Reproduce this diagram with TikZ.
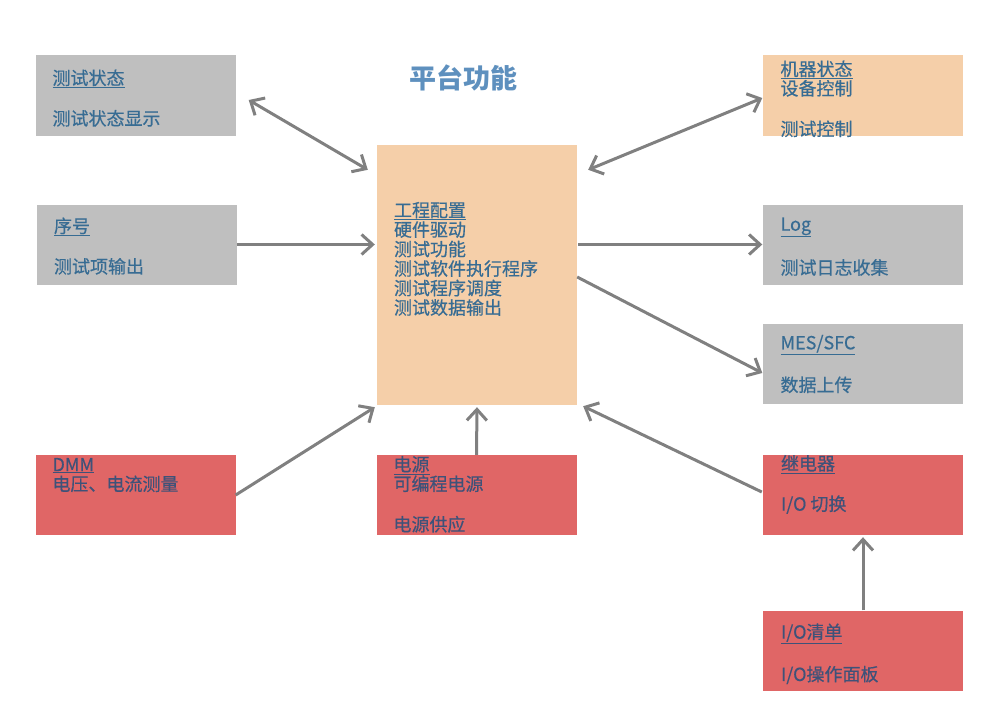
\documentclass[tikz,border=0pt]{standalone}
\usepackage{fontspec}
\setmainfont{Noto Sans CJK SC}
\newfontfamily\boxfont[FakeBold=0.5]{Noto Sans CJK SC}
\usetikzlibrary{arrows.meta}

\definecolor{boxgray}{HTML}{BFBFBF}
\definecolor{boxorange}{HTML}{F5CFA9}
\definecolor{boxred}{HTML}{E06666}
\definecolor{txtblue}{HTML}{376C93}
\definecolor{txtnavy}{HTML}{3E5279}
\definecolor{titleblue}{HTML}{5E90BE}
\definecolor{linkgray}{HTML}{808080}

\begin{document}
\begin{tikzpicture}[x=1pt, y=-1pt,
    box/.style={rectangle, draw=none, minimum width=200pt, minimum height=80pt, inner sep=0pt},
    graybox/.style={box, fill=boxgray},
    orangebox/.style={box, fill=boxorange},
    redbox/.style={box, fill=boxred},
    boxtext/.style={anchor=north west, inner sep=0pt, align=left, text=txtblue,
        font=\boxfont\fontsize{18}{19.5}\selectfont},
    redtext/.style={boxtext, text=txtnavy},
    link/.style={draw=linkgray, line width=3pt, -{Straight Barb[length=11pt,width=20pt]}},
    biglink/.style={link, {Straight Barb[length=11pt,width=20pt]}-{Straight Barb[length=11pt,width=20pt]}}
    ]
    % --- 画布范围 ---
    \useasboundingbox (0,0) rectangle (997,709);

    % --- 标题 ---
    \node[text=titleblue, font=\fontsize{27}{30}\selectfont\bfseries] (title) at (463,78) {平台功能};

    % --- 方框 ---
    \node[graybox] (status) at (135.5,95.5) {};
    \node[graybox] (serial) at (137,244.5) {};
    \node[redbox] (dmm) at (135.5,495) {};
    \node[orangebox, minimum height=260pt] (center) at (477,275) {};
    \node[redbox] (power) at (476.5,495) {};
    \node[orangebox] (machine) at (862.5,95.5) {};
    \node[graybox] (log) at (862.5,244.5) {};
    \node[graybox] (mes) at (862.5,364) {};
    \node[redbox] (relay) at (863,495) {};
    \node[redbox] (iolist) at (863,650.5) {};

    % --- 方框里的文字 ---
    \node[boxtext] (statustxt) at ([shift={(17,14)}]status.north west)
        {\underline{测试状态}\\[21pt]测试状态显示};
    \node[boxtext] (serialtxt) at ([shift={(17,13)}]serial.north west)
        {\underline{序号}\\[21pt]测试项输出};
    \node[redtext] (dmmtxt) at ([shift={(17,3)}]dmm.north west)
        {\underline{DMM}\\电压、电流测量};
    \node[boxtext] (centertxt) at ([shift={(17,57)}]center.north west)
        {\underline{工程配置}\\硬件驱动\\测试功能\\测试软件执行程序\\测试程序调度\\测试数据输出};
    \node[redtext] (powertxt) at ([shift={(17,1)}]power.north west)
        {\underline{电源}\\可编程电源\\[21pt]电源供应};
    \node[boxtext] (machinetxt) at ([shift={(18,5)}]machine.north west)
        {\underline{机器状态}\\设备控制\\[21pt]测试控制};
    \node[boxtext] (logtxt) at ([shift={(18,13)}]log.north west)
        {\underline{Log}\\[21pt]测试日志收集};
    \node[boxtext] (mestxt) at ([shift={(18,11)}]mes.north west)
        {\underline{MES/SFC}\\[21pt]数据上传};
    \node[redtext] (relaytxt) at ([shift={(18,0)}]relay.north west)
        {\underline{继电器}\\[21pt]I/O 切换};
    \node[redtext] (iolisttxt) at ([shift={(18,13)}]iolist.north west)
        {\underline{I/O清单}\\[21pt]I/O操作面板};

    % --- 连线 ---
    \draw[biglink] ([shift={(13,4.5)}]status.east) -- ([shift={(-9,25)}]center.north west);
    \draw[link] (serial.east) -- ([xshift=-2pt]serial.east -| center.west);
    \draw[link] (dmm.east) -- ([shift={(-2,2)}]center.south west);
    \draw[link] (power.north) -- ([yshift=-2pt]center.south);
    \draw[link] ([shift={(-1,-3)}]relay.west) -- ([shift={(6,1)}]center.south east);
    \draw[link] (iolist.north) -- ([yshift=-2pt]relay.south);
    \draw[link] ([yshift=-2pt]center.east) -- ([shift={(0,9)}]mes.west);
    \draw[link] ([xshift=1pt]log.west -| center.east) -- (log.west);
    \draw[biglink] ([shift={(11,25)}]center.north east) -- ([shift={(0,2.5)}]machine.west);
\end{tikzpicture}
\end{document}
